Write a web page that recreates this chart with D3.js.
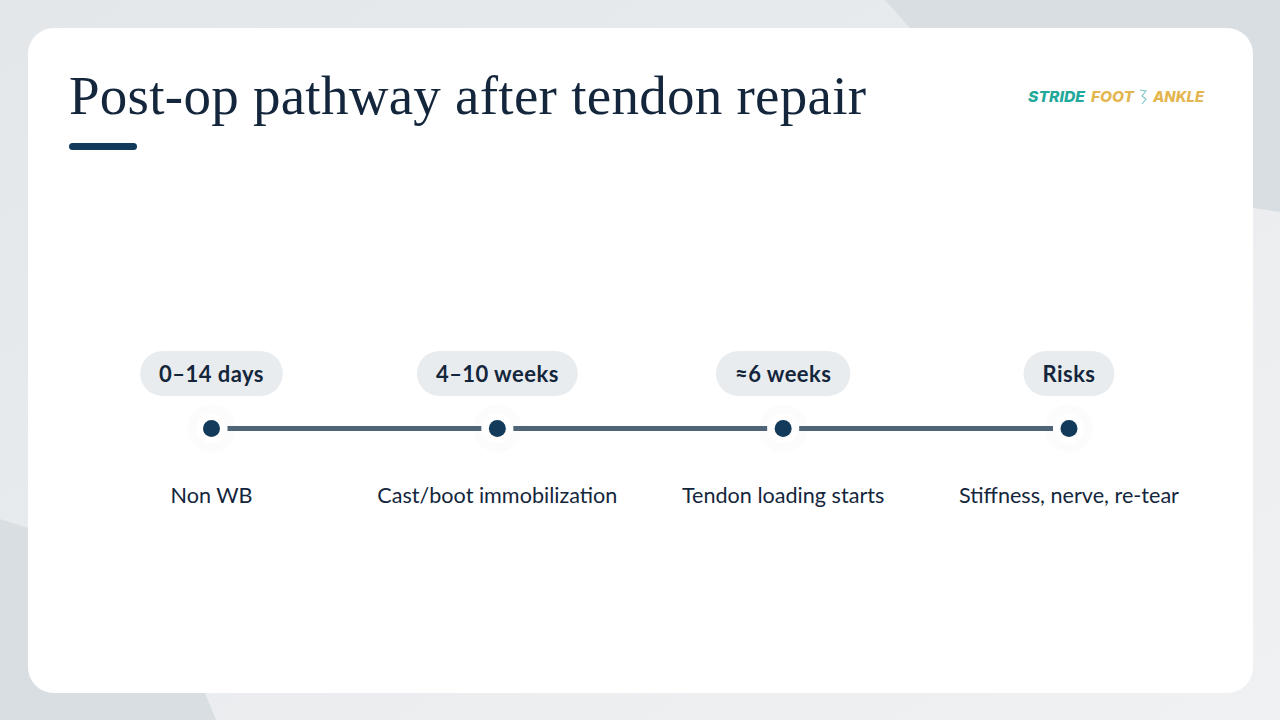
<!DOCTYPE html>
<html>
<head>
<meta charset="utf-8">
<style>
  html, body { margin: 0; padding: 0; background: #e9ecef; }
  svg { display: block; }
</style>
<script src="https://cdn.jsdelivr.net/npm/d3@7"></script>
</head>
<body>
<svg id="chart"></svg>
<script>
const titleText = "Post-op pathway after tendon repair";
const stages = ["0–14 days", "4–10 weeks", "≈6 weeks", "Risks"];
const notes = ["Non WB", "Cast/boot immobilization", "Tendon loading starts", "Stiffness, nerve, re-tear"];
const logoParts = ["STRIDE", "FOOT", "ANKLE"];

const width = 1280, height = 720;
const ink = "#14263c", navy = "#123a5a", lineCol = "#4f6577", pillCol = "#e9ecef";
const bodyFont = "Lato, 'Noto Sans', sans-serif";

const svg = d3.select("#chart").attr("width", width).attr("height", height);

// background
const defs = svg.append("defs");
const grad = defs.append("linearGradient").attr("id", "bg")
    .attr("x1", 0).attr("y1", 0).attr("x2", 1).attr("y2", 1);
grad.append("stop").attr("offset", "0%").attr("stop-color", "#e3e7ea");
grad.append("stop").attr("offset", "100%").attr("stop-color", "#f0f1f3");

svg.append("rect").attr("width", width).attr("height", height).attr("fill", "url(#bg)");
svg.append("path").attr("d", "M885,0 L1280,0 L1280,212 L1240,206 L910,28 Z").attr("fill", "#d9dee2");
svg.append("path").attr("d", "M910,28 L1240,28 L1240,206 Z").attr("fill", "#d9dee2");
svg.append("path").attr("d", "M0,519 L28,528 L100,600 L205,693 L216,720 L0,720 Z").attr("fill", "#d9dee2");

// card
svg.append("rect")
    .attr("x", 28).attr("y", 28)
    .attr("width", 1225).attr("height", 665)
    .attr("rx", 26)
    .attr("fill", "#fff");

// header
svg.append("text")
    .attr("x", 69).attr("y", 114)
    .attr("font-family", "'Liberation Serif', serif")
    .attr("font-size", 55)
    .attr("textLength", 797)
    .attr("fill", ink)
    .text(titleText);

svg.append("rect")
    .attr("x", 69).attr("y", 143)
    .attr("width", 68).attr("height", 7)
    .attr("rx", 3.5)
    .attr("fill", navy);

// logo, each word fitted to its own slot
const logoSlots = [[1028, 57, "#1fa99a"], [1091, 43, "#e3b64f"], [1153, 51, "#e3b64f"]];
svg.append("g").selectAll("text")
    .data(logoParts)
    .join("text")
    .attr("x", (d, i) => logoSlots[i][0])
    .attr("y", 102)
    .attr("textLength", (d, i) => logoSlots[i][1])
    .attr("lengthAdjust", "spacingAndGlyphs")
    .attr("font-family", "Inter, sans-serif")
    .attr("font-size", 15)
    .attr("font-weight", 800)
    .attr("font-style", "italic")
    .attr("fill", (d, i) => logoSlots[i][2])
    .text(d => d);

// foot mark in the logo
svg.append("path")
    .attr("d", "M1140,90 L1146,91 L1142,96 L1146,99 L1142,104")
    .attr("fill", "none")
    .attr("stroke", "#7cc7c4")
    .attr("stroke-width", 1.1);

// timeline
const x = d3.scalePoint().domain(stages).range([211.5, 1069]);
const lineY = 428.5, pillY = 373.5, noteY = 503;

const halo = svg.append("g");
halo.selectAll("circle.outer")
    .data(stages)
    .join("circle")
    .attr("class", "outer")
    .attr("cx", d => x(d)).attr("cy", lineY)
    .attr("r", 24).attr("fill", "#fcfcfd");
halo.selectAll("circle.inner")
    .data(stages)
    .join("circle")
    .attr("class", "inner")
    .attr("cx", d => x(d)).attr("cy", lineY)
    .attr("r", 15).attr("fill", "#fff");

svg.append("g").selectAll("line")
    .data(d3.pairs(stages))
    .join("line")
    .attr("x1", d => x(d[0]) + 16)
    .attr("x2", d => x(d[1]) - 16)
    .attr("y1", lineY).attr("y2", lineY)
    .attr("stroke", lineCol)
    .attr("stroke-width", 5);

svg.append("g").selectAll("circle")
    .data(stages)
    .join("circle")
    .attr("cx", d => x(d)).attr("cy", lineY)
    .attr("r", 8.5)
    .attr("fill", navy);

const pills = svg.append("g").selectAll("g")
    .data(stages)
    .join("g")
    .attr("transform", d => `translate(${x(d)},${pillY})`);

pills.append("text")
    .attr("text-anchor", "middle")
    .attr("y", 8)
    .attr("font-family", bodyFont)
    .attr("font-size", 22)
    .attr("font-weight", 700)
    .attr("letter-spacing", 0.45)
    .attr("fill", ink)
    .text(d => d);

pills.insert("rect", "text").each(function() {
    const w = this.parentNode.querySelector("text").getComputedTextLength() + 38;
    d3.select(this)
        .attr("x", -w / 2).attr("y", -22.5)
        .attr("width", w).attr("height", 45)
        .attr("rx", 22.5)
        .attr("fill", pillCol);
});

svg.append("g").selectAll("text")
    .data(notes)
    .join("text")
    .attr("x", (d, i) => x(stages[i]))
    .attr("y", noteY)
    .attr("text-anchor", "middle")
    .attr("font-family", bodyFont)
    .attr("font-size", 21.6)
    .attr("fill", ink)
    .text(d => d);
</script>
</body>
</html>
